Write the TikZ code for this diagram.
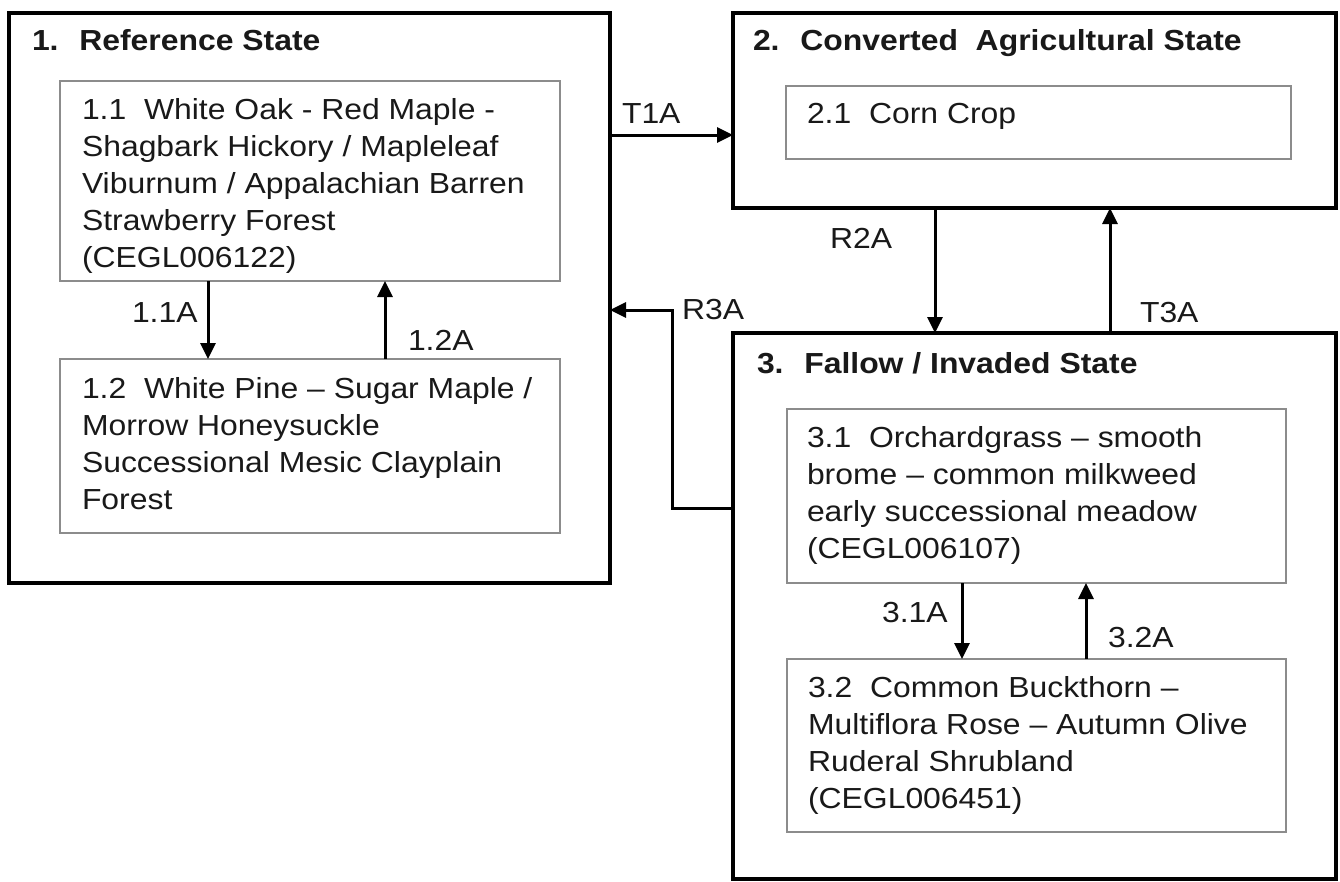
\documentclass[tikz,border=0pt]{standalone}
\usepackage{fontspec}
\setmainfont{Liberation Sans}[FakeStretch=1.1]
\usetikzlibrary{arrows.meta}
\definecolor{innergray}{RGB}{140,140,140}
\definecolor{ink}{RGB}{25,25,25}
\newcommand{\mystrut}{\rule{0pt}{26pt}}
\begin{document}
\begin{tikzpicture}[x=1pt,y=-1pt,
  outerbox/.style={draw=black,line width=3.6pt,rectangle,inner sep=0pt,outer sep=0pt,anchor=north west},
  innerbox/.style={draw=innergray,line width=2.2pt,rectangle,inner sep=0pt,outer sep=0pt,anchor=north west},
  txt/.style={inner sep=0pt,outer sep=0pt,anchor=north west,align=left,text=ink,font=\fontsize{29}{37}\selectfont},
  hdr/.style={txt,font=\fontsize{29}{37}\selectfont\bfseries},
  arr/.style={draw=black,line width=3pt,line join=miter,-{Triangle[length=16pt,width=15pt]}}]
\fill[white] (0,0) rectangle (1340,881);
\useasboundingbox (0,0) rectangle (1340,881);

% outer state boxes
\node[outerbox,minimum width=601pt,minimum height=570pt] (s1) at (9,13) {};
\node[outerbox,minimum width=603pt,minimum height=195pt] (s2) at (733,13) {};
\node[outerbox,minimum width=603pt,minimum height=546pt] (s3) at (733,333) {};

% inner community boxes
\node[innerbox,minimum width=500pt,minimum height=200pt] (s11) at (60,81) {};
\node[innerbox,minimum width=500pt,minimum height=174pt] (s12) at (60,359) {};
\node[innerbox,minimum width=505pt,minimum height=73pt] (s21) at (786,86) {};
\node[innerbox,minimum width=499pt,minimum height=174pt] (s31) at (787,409) {};
\node[innerbox,minimum width=499pt,minimum height=173pt] (s32) at (787,659) {};

% headers
\node[hdr] (h1) at (32,24) {\mystrut 1.~ Reference State};
\node[hdr] (h2) at (753,24) {\mystrut 2.~ Converted~ Agricultural State};
\node[hdr] (h3) at (757,347) {\mystrut 3.~ Fallow / Invaded State};

% community texts
\node[txt] (t11) at (82,93) {\mystrut 1.1~ White Oak - Red Maple -\\Shagbark Hickory / Mapleleaf\\Viburnum / Appalachian Barren\\Strawberry Forest\\(CEGL006122)};
\node[txt] (t12) at (82,372) {\mystrut 1.2~ White Pine – Sugar Maple /\\Morrow Honeysuckle\\Successional Mesic Clayplain\\Forest};
\node[txt] (t21) at (807,97) {\mystrut 2.1~ Corn Crop};
\node[txt] (t31) at (807,421) {\mystrut 3.1~ Orchardgrass – smooth\\brome – common milkweed\\early successional meadow\\(CEGL006107)};
\node[txt] (t32) at (808,671) {\mystrut 3.2~ Common Buckthorn –\\Multiflora Rose – Autumn Olive\\Ruderal Shrubland\\(CEGL006451)};

% transition labels
\node[txt] (lT1) at (622,97) {\mystrut T1A};
\node[txt] (lR2) at (830,222) {\mystrut R2A};
\node[txt] (lT3) at (1140,296) {\mystrut T3A};
\node[txt] (lR3) at (682,293) {\mystrut R3A};
\node[txt] (l11) at (132,296) {\mystrut 1.1A};
\node[txt] (l12) at (408,324) {\mystrut 1.2A};
\node[txt] (l31) at (882,596) {\mystrut 3.1A};
\node[txt] (l32) at (1108,621) {\mystrut 3.2A};

% connector guide coordinates
\coordinate (yT1) at (0,135);
\coordinate (xR2) at (935,0);
\coordinate (xT3) at (1110,0);
\coordinate (r3a) at (672,508);
\coordinate (r3b) at (672,310);
\coordinate (x11) at (208,0);
\coordinate (x12) at (385,0);
\coordinate (x31) at (962,0);
\coordinate (x32) at (1086,0);

% connectors
\draw[arr] (s1.east |- yT1) -- (s2.west |- yT1);
\draw[arr] (s2.south -| xR2) -- (s3.north -| xR2);
\draw[arr] (s3.north -| xT3) -- (s2.south -| xT3);
\draw[arr] (s3.west |- r3a) -- (r3a) -- (r3b) -- (s1.east |- r3b);
\draw[arr] (s11.south -| x11) -- (s12.north -| x11);
\draw[arr] (s12.north -| x12) -- (s11.south -| x12);
\draw[arr] (s31.south -| x31) -- (s32.north -| x31);
\draw[arr] (s32.north -| x32) -- (s31.south -| x32);
\end{tikzpicture}
\end{document}
